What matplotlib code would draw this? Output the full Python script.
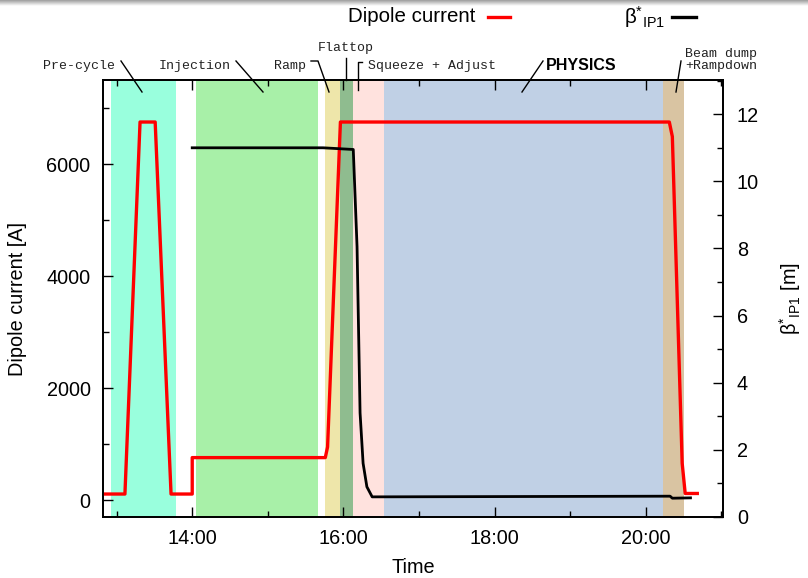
import numpy as np
import matplotlib
matplotlib.use("Agg")
import matplotlib.pyplot as plt
from matplotlib.ticker import MultipleLocator

plt.rcParams['font.family'] = ['Liberation Sans', 'DejaVu Sans']

# Time in hours of the day
dipole_t = [12.82, 13.11, 13.31, 13.51, 13.72, 14.00, 14.00, 15.76, 15.79, 15.96,
            20.31, 20.35, 20.48, 20.52, 20.68]
dipole_I = [110, 110, 6750, 6750, 110, 110, 760, 760, 950, 6750,
            6750, 6490, 660, 120, 120]

beta_t = [14.00, 15.73, 16.13, 16.18, 16.22, 16.26, 16.31, 16.38, 20.32, 20.35, 20.59]
beta_v = [11.0, 11.0, 10.95, 8.05, 3.1, 1.6, 0.9, 0.6, 0.62, 0.56, 0.57]

# Machine phases: start, end, colour
phase_start = [12.93, 14.05, 15.75, 15.96, 16.13, 16.53, 20.23]
phase_end = [13.79, 15.67, 15.96, 16.13, 16.53, 20.23, 20.51]
phase_color = ['#99FFDD', '#A8F0A8', '#EEE6AA', '#8FBC8F', '#FFE2DE', '#C0D0E5', '#D9C4A2']

xtick_pos = [14, 16, 18, 20]
xtick_lab = ['14:00', '16:00', '18:00', '20:00']

FS = 14.3
BETA = r'$\mathregular{\beta^{*}{}_{IP1}}$'

fig = plt.figure(figsize=(8.08, 5.78), dpi=100)

# faint shadow band along the top edge
shade = fig.add_axes([0, 1 - 6 / 578, 1, 6 / 578])
shade.imshow(np.linspace(0.62, 1.0, 20).reshape(-1, 1), cmap='gray', vmin=0, vmax=1,
             aspect='auto', extent=[0, 1, 0, 1])
shade.axis('off')

ax = fig.add_axes([103 / 808, 1 - 517 / 578, 620 / 808, 437 / 578])
ax2 = ax.twinx()

for s, e, c in zip(phase_start, phase_end, phase_color):
    ax.axvspan(s, e, color=c, lw=0, zorder=0)

ax.plot(dipole_t, dipole_I, color='#FF0000', lw=2.4, zorder=3)
ax2.plot(beta_t, beta_v, color='black', lw=2.0, zorder=3)

ax.set_xlim(12.82, 21.02)
ax.set_ylim(-300, 7500)
ax2.set_ylim(0, 13.02)

ax.set_xticks(xtick_pos)
ax.set_xticklabels(xtick_lab)
ax.xaxis.set_minor_locator(MultipleLocator(1))
ax.yaxis.set_major_locator(MultipleLocator(2000))
ax.yaxis.set_minor_locator(MultipleLocator(1000))
ax2.yaxis.set_major_locator(MultipleLocator(2))
ax2.yaxis.set_minor_locator(MultipleLocator(1))

ax.tick_params(axis='x', which='both', direction='in', top=True, labelsize=FS, pad=9)
ax.tick_params(axis='y', which='both', direction='in', right=False, labelsize=FS, pad=9)
ax.tick_params(which='major', length=7, width=1)
ax.tick_params(which='minor', length=4, width=1)
ax2.tick_params(which='both', direction='in', labelsize=FS, pad=10)
ax2.tick_params(which='major', length=7, width=1)
ax2.tick_params(which='minor', length=4, width=1)

for a in (ax, ax2):
    for sp in a.spines.values():
        sp.set_linewidth(1.3)

ax.set_xlabel('Time', fontsize=FS, labelpad=7)
ax.set_ylabel('Dipole current [A]', fontsize=FS, labelpad=14)
ax2.set_ylabel(BETA + ' [m]', fontsize=FS, labelpad=13)

# Legend entries across the top
fig.text(475 / 808, 1 - 17 / 578, 'Dipole current', ha='right', va='center', fontsize=FS + 0.5)
fig.add_artist(plt.Line2D([488 / 808, 510 / 808], [1 - 17 / 578] * 2, color='#FF0000', lw=2.4))
fig.text(665 / 808, 1 - 17 / 578, BETA, ha='right', va='center', fontsize=FS + 0.5)
fig.add_artist(plt.Line2D([672 / 808, 696 / 808], [1 - 17 / 578] * 2, color='black', lw=2.4))

# Phase labels with leader lines (figure pixel coordinates)
mono = dict(family=['Liberation Mono', 'DejaVu Sans Mono'], fontsize=9.5, color='#222222')
H = 578.0


def fx(x):
    return x / 808.0


def fy(y):
    return 1 - y / H


def leader(xs, ys):
    fig.add_artist(plt.Line2D([fx(v) for v in xs], [fy(v) for v in ys],
                              color='black', lw=1.0, zorder=10))


fig.text(fx(115), fy(66), 'Pre-cycle', ha='right', va='center', **mono)
leader([121, 142], [61, 92])
fig.text(fx(231), fy(66), 'Injection', ha='right', va='center', **mono)
leader([236, 263], [61, 92])
fig.text(fx(306), fy(66), 'Ramp', ha='right', va='center', **mono)
leader([311, 318, 329], [61, 61, 92])
fig.text(fx(346), fy(48), 'Flattop', ha='center', va='center', **mono)
leader([346, 346], [58, 80])
fig.text(fx(368), fy(66), 'Squeeze + Adjust', ha='left', va='center', **mono)
leader([362, 358, 358], [62, 62, 90])
fig.text(fx(546), fy(65), 'PHYSICS', ha='left', va='center', fontsize=11.5, fontweight='bold')
leader([543, 522], [61, 92])
fig.text(fx(685), fy(54), 'Beam dump', ha='left', va='center', **mono)
fig.text(fx(685), fy(66), '+Rampdown', ha='left', va='center', **mono)
leader([681, 676], [61, 92])

fig.savefig('out.png', dpi=100)
